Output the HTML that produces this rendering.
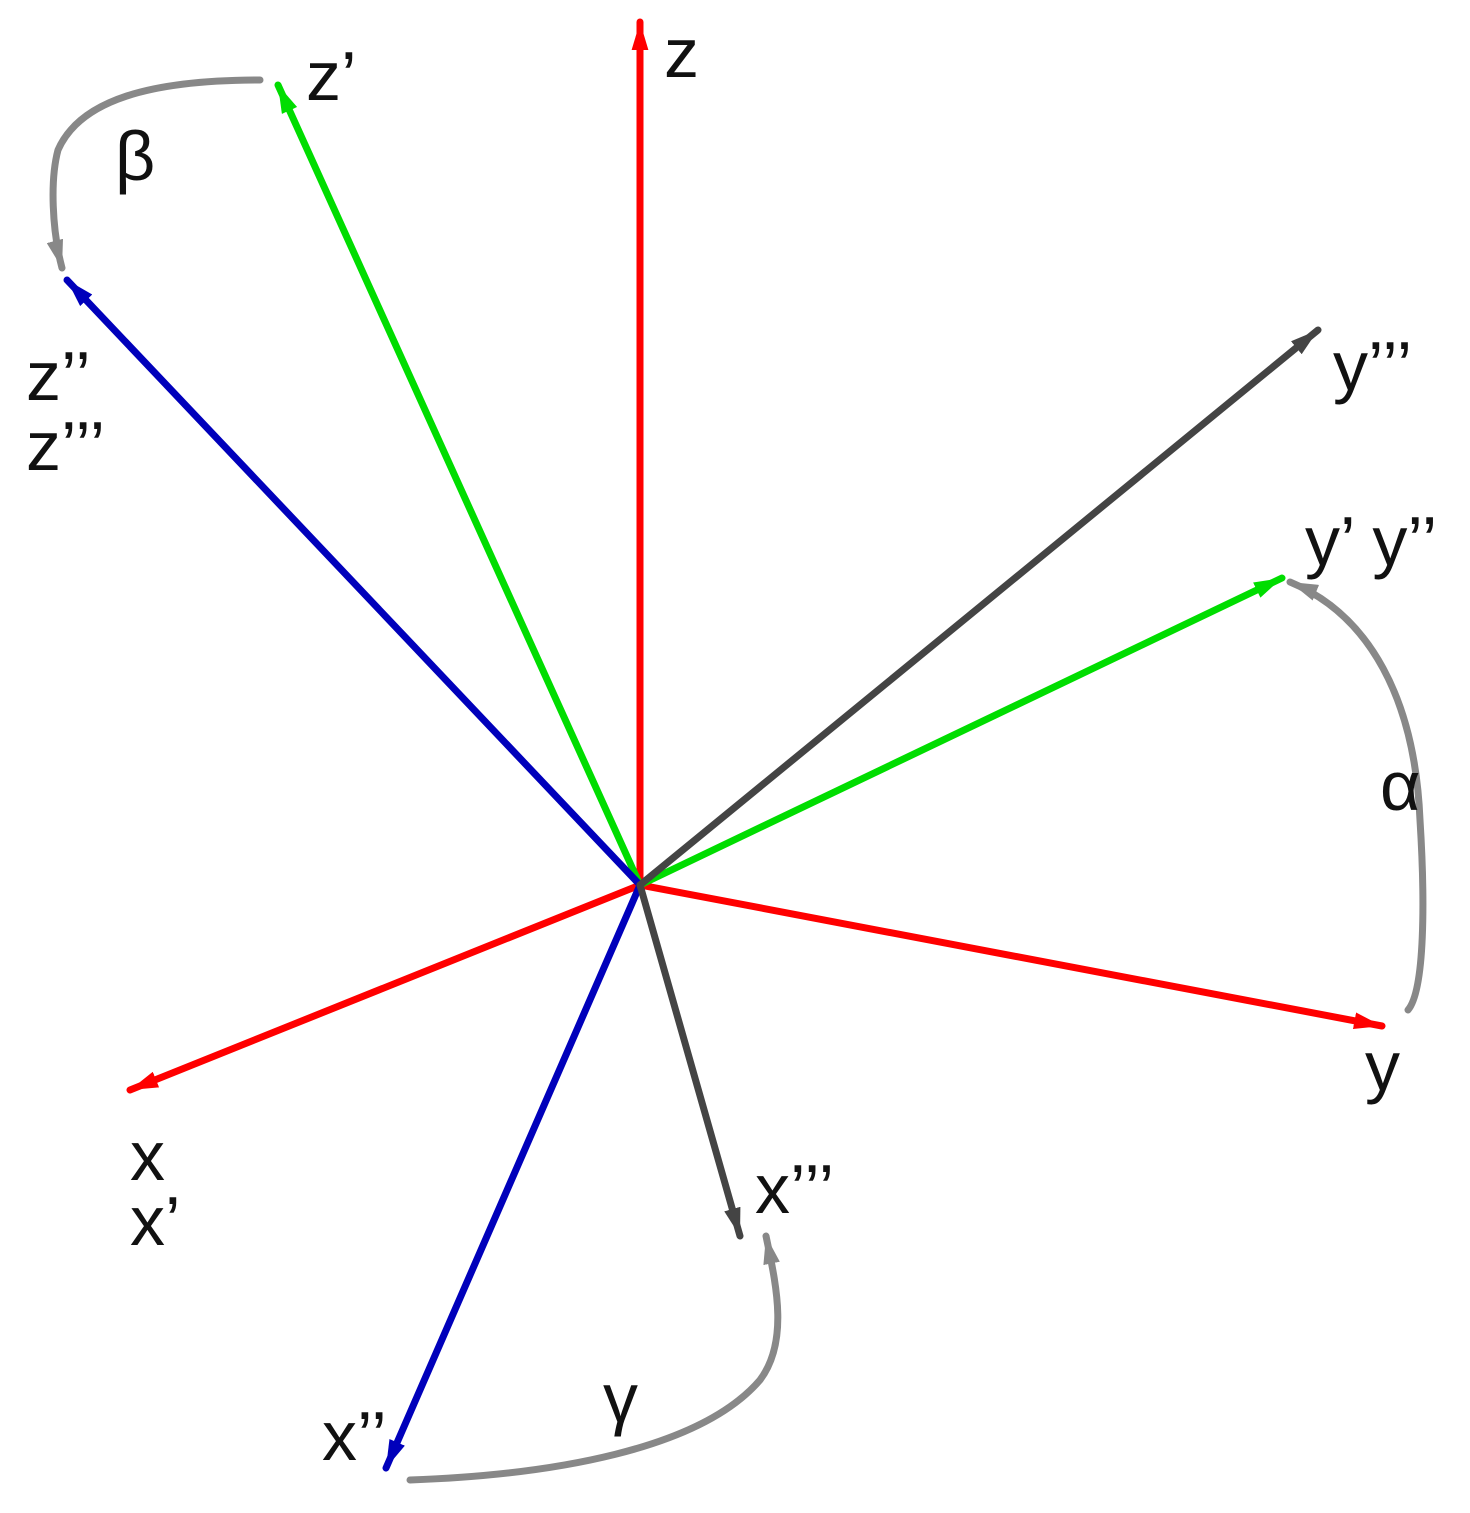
<!DOCTYPE html>
<html><head><meta charset="utf-8"><style>
html,body{margin:0;padding:0;background:#fff}
svg{display:block}
text{font-family:"Liberation Sans","DejaVu Sans",sans-serif;font-size:70px;fill:#111}
</style></head><body>
<svg width="1470" height="1513" viewBox="0 0 1470 1513" xmlns="http://www.w3.org/2000/svg">
<defs>
<marker id="mr" viewBox="0 0 10 6" refX="10" refY="3" markerWidth="4" markerHeight="2.4" orient="auto" markerUnits="strokeWidth"><path d="M0,0 L10,3 L0,6 z" fill="#ff0000"/></marker>
<marker id="mg" viewBox="0 0 10 6" refX="10" refY="3" markerWidth="4" markerHeight="2.4" orient="auto" markerUnits="strokeWidth"><path d="M0,0 L10,3 L0,6 z" fill="#00dd00"/></marker>
<marker id="mb" viewBox="0 0 10 6" refX="10" refY="3" markerWidth="4" markerHeight="2.4" orient="auto" markerUnits="strokeWidth"><path d="M0,0 L10,3 L0,6 z" fill="#0000bb"/></marker>
<marker id="mk" viewBox="0 0 10 6" refX="10" refY="3" markerWidth="4" markerHeight="2.4" orient="auto" markerUnits="strokeWidth"><path d="M0,0 L10,3 L0,6 z" fill="#444"/></marker>
<marker id="ma" viewBox="0 0 10 6" refX="10" refY="3" markerWidth="4" markerHeight="2.4" orient="auto" markerUnits="strokeWidth"><path d="M0,0 L10,3 L0,6 z" fill="#888"/></marker>
</defs>
<g stroke-width="7" fill="none" stroke-linecap="round">
<line x1="640" y1="885" x2="640" y2="22" stroke="#ff0000" marker-end="url(#mr)"/>
<line x1="640" y1="885" x2="1382" y2="1026" stroke="#ff0000" marker-end="url(#mr)"/>
<line x1="640" y1="885" x2="130" y2="1090" stroke="#ff0000" marker-end="url(#mr)"/>
<line x1="640" y1="885" x2="278" y2="85" stroke="#00dd00" marker-end="url(#mg)"/>
<line x1="640" y1="885" x2="1282" y2="578" stroke="#00dd00" marker-end="url(#mg)"/>
<line x1="640" y1="885" x2="67" y2="280" stroke="#0000bb" marker-end="url(#mb)"/>
<line x1="640" y1="885" x2="386" y2="1468" stroke="#0000bb" marker-end="url(#mb)"/>
<line x1="640" y1="885" x2="1318" y2="330" stroke="#444" marker-end="url(#mk)"/>
<line x1="640" y1="885" x2="740" y2="1236" stroke="#444" marker-end="url(#mk)"/>
<path d="M260,80 C150,80 80,100 58,150 C50,180 52,230 62,268" stroke="#888" marker-end="url(#ma)"/>
<path d="M1408,1010 C1425,990 1425,900 1420,820 C1415,700 1370,615 1290,582" stroke="#888" marker-end="url(#ma)"/>
<path d="M410,1480 C550,1475 700,1450 760,1380 C790,1340 775,1280 766,1236" stroke="#888" marker-end="url(#ma)"/>
</g>
<text x="664" y="77">z</text>
<text x="306" y="100">z’</text>
<text x="115" y="180">β</text>
<text x="26" y="400">z’’</text>
<text x="26" y="470">z’’’</text>
<text x="1333" y="390">y’’’</text>
<text x="1305" y="565">y’ y’’</text>
<text x="1380" y="810">α</text>
<text x="1365" y="1090">y</text>
<text x="130" y="1180">x</text>
<text x="130" y="1245">x’</text>
<text x="755" y="1213">x’’’</text>
<text x="603" y="1422">γ</text>
<text x="322" y="1460">x’’</text>
</svg>
</body></html>
